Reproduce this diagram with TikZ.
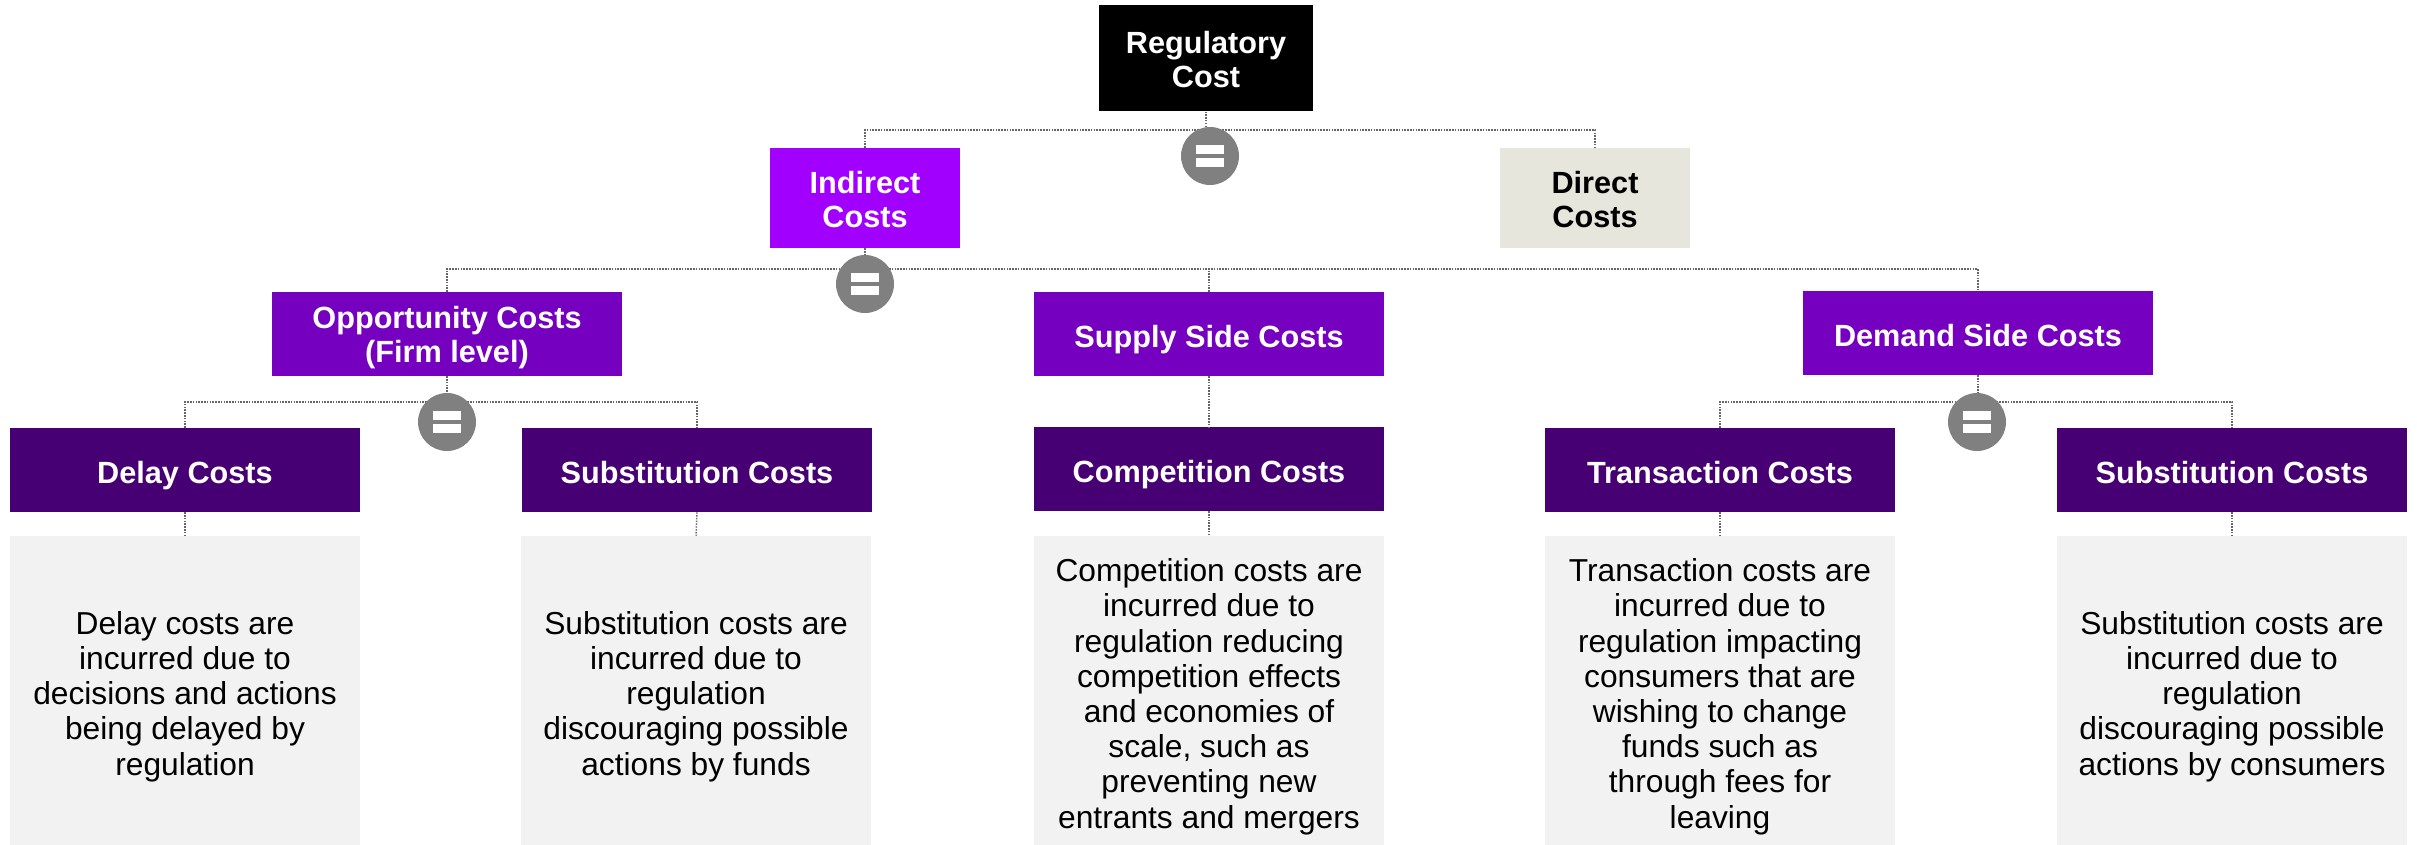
\documentclass[tikz,border=0pt]{standalone}
\usepackage{fontspec}
\setmainfont{Liberation Sans}
\definecolor{cind}{HTML}{A100FF}
\definecolor{cdir}{HTML}{E6E6DC}
\definecolor{cmid}{HTML}{7500C0}
\definecolor{cdark}{HTML}{460073}
\definecolor{cdesc}{HTML}{F2F2F2}
\definecolor{cgray}{HTML}{808080}
\definecolor{cline}{HTML}{666666}
\tikzset{
  base/.style={rectangle,inner sep=0pt,align=center,font=\fontsize{23}{25.5}\selectfont\bfseries,text depth=4pt,text height=24pt},
  twolines/.style={text height=49pt,text depth=4pt},
  fivelines/.style={text height=131pt,text depth=4pt},
  eightlines/.style={text height=210.5pt,text depth=4pt},
  topbox/.style={base,twolines,fill=black,text=white,minimum width=160.5pt,minimum height=80pt},
  indbox/.style={base,twolines,fill=cind,text=white,minimum width=142pt,minimum height=75pt},
  dirbox/.style={base,twolines,fill=cdir,text=black,minimum width=142pt,minimum height=75pt},
  midbox/.style={base,fill=cmid,text=white,minimum height=63pt},
  darkbox/.style={base,fill=cdark,text=white,minimum width=263pt,minimum height=63pt},
  descbox/.style={rectangle,inner sep=0pt,align=center,fill=cdesc,text=black,minimum width=263pt,minimum height=231.75pt,font=\fontsize{23.8}{26.4}\selectfont},
  conn/.style={draw=cline,line width=1.1pt,densely dotted},
  eqsign/.style={circle,fill=cgray,minimum size=43.5pt,inner sep=0pt,
    path picture={
      \fill[white] ([xshift=-10.5pt,yshift=1.5pt]path picture bounding box.center) rectangle ++(21pt,6.5pt);
      \fill[white] ([xshift=-10.5pt,yshift=-8pt]path picture bounding box.center) rectangle ++(21pt,6.5pt);
    }},
}
\begin{document}
\begin{tikzpicture}[x=0.75pt,y=-0.75pt]
\useasboundingbox (0,0) rectangle (2417,845);
% boxes
\node[topbox] (reg) at (1206,58) {Regulatory\\Cost};
\node[indbox] (ind) at (865,198) {Indirect\\Costs};
\node[dirbox] (dir) at (1595,198) {Direct\\Costs};
\node[midbox,text height=47pt,minimum width=263pt] (opp) at (447,334) {Opportunity Costs\\(Firm level)};
\node[midbox,minimum width=262pt] (sup) at (1209,334) {Supply Side Costs};
\node[midbox,minimum width=263pt] (dem) at (1978,333) {Demand Side Costs};
\node[darkbox] (del) at (185,470) {Delay Costs};
\node[darkbox] (sub) at (697,470) {Substitution Costs};
\node[darkbox] (com) at (1209,469) {Competition Costs};
\node[darkbox] (tra) at (1720,470) {Transaction Costs};
\node[darkbox] (sud) at (2232,470) {Substitution Costs};
\node[descbox,fivelines] (ddel) at (185,690.5) {Delay costs are\\incurred due to\\decisions and actions\\being delayed by\\regulation};
\node[descbox,fivelines] (dsub) at (696,690.5) {Substitution costs are\\incurred due to\\regulation\\discouraging possible\\actions by funds};
\node[descbox,eightlines] (dcom) at (1209,690.5) {Competition costs are\\incurred due to\\regulation reducing\\competition effects\\and economies of\\scale, such as\\preventing new\\entrants and mergers};
\node[descbox,eightlines] (dtra) at (1720,690.5) {Transaction costs are\\incurred due to\\regulation impacting\\consumers that are\\wishing to change\\funds such as\\through fees for\\leaving};
\node[descbox,fivelines] (dsud) at (2232,690.5) {Substitution costs are\\incurred due to\\regulation\\discouraging possible\\actions by consumers};
% bus points
\coordinate (bus1) at (1206,130);
\coordinate (bus2) at (865,269);
\coordinate (bus3) at (447,402);
\coordinate (bus4) at (1978,402);
% connectors
\draw[conn] (reg.south) -- (bus1);
\draw[conn] (ind.north) |- (bus1) -| (dir.north);
\draw[conn] (ind.south) -- (bus2);
\draw[conn] (opp.north) |- (bus2) -| (dem.north);
\draw[conn] (sup.north) -- (sup.north |- bus2);
\draw[conn] (opp.south) -- (bus3);
\draw[conn] (del.north) |- (bus3) -| (sub.north);
\draw[conn] (dem.south) -- (bus4);
\draw[conn] (tra.north) |- (bus4) -| (sud.north);
\draw[conn] (sup.south) -- (com.north);
\draw[conn] (del.south) -- (ddel.north);
\draw[conn] (sub.south) -- (dsub.north);
\draw[conn] (com.south) -- (dcom.north);
\draw[conn] (tra.south) -- (dtra.north);
\draw[conn] (sud.south) -- (dsud.north);
% equals badges
\node[eqsign] (e1) at (1210,156) {};
\node[eqsign] (e2) at (865,284) {};
\node[eqsign] (e3) at (447,422) {};
\node[eqsign] (e4) at (1977,422) {};
\end{tikzpicture}
\end{document}
